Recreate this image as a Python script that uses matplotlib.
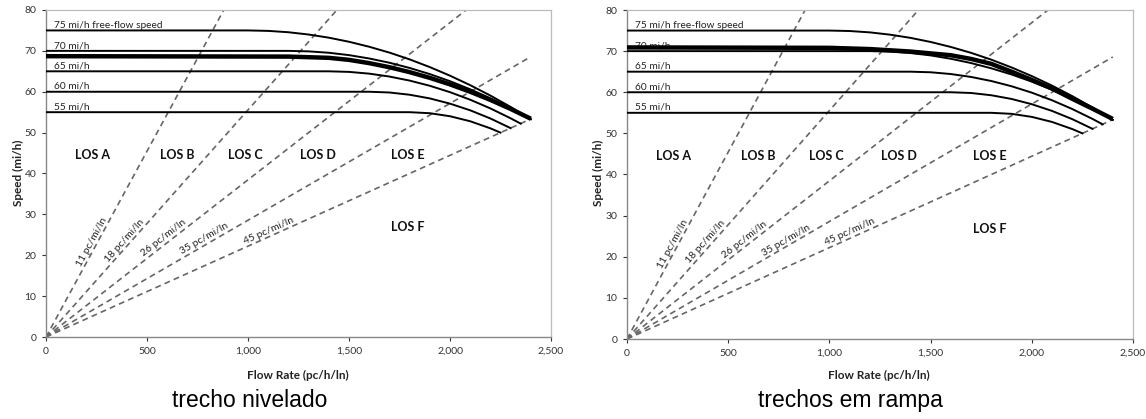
import numpy as np
import matplotlib
matplotlib.use("Agg")
import matplotlib.pyplot as plt

plt.rcParams['font.family'] = ['Lato', 'DejaVu Sans']

# HCM speed-flow curves (flow pc/h/ln, speed mi/h)
ffs_labels = ["75 mi/h free-flow speed", "70 mi/h", "65 mi/h", "60 mi/h", "55 mi/h"]
ffs_values = [75, 70, 65, 60, 55]

flow_75 = [0, 1000, 1100, 1200, 1300, 1400, 1500, 1600, 1700, 1800, 1900, 2000, 2100, 2200, 2300, 2400]
speed_75 = [75, 75, 74.89, 74.56, 74.00, 73.23, 72.23, 71.01, 69.58, 67.92, 66.03, 63.93, 61.61, 59.06, 56.29, 53.30]

flow_70 = [0, 1200, 1300, 1400, 1500, 1600, 1700, 1800, 1900, 2000, 2100, 2200, 2300, 2400]
speed_70 = [70, 70, 69.88, 69.54, 68.96, 68.14, 67.10, 65.82, 64.32, 62.58, 60.60, 58.40, 55.96, 53.30]

flow_65 = [0, 1400, 1500, 1600, 1700, 1800, 1900, 2000, 2100, 2200, 2300, 2350]
speed_65 = [65, 65, 64.86, 64.43, 63.72, 62.73, 61.46, 59.90, 58.05, 55.92, 53.51, 52.20]

flow_60 = [0, 1600, 1700, 1800, 1900, 2000, 2100, 2200, 2300]
speed_60 = [60, 60, 59.82, 59.27, 58.37, 57.09, 55.46, 53.46, 51.10]

flow_55 = [0, 1800, 1900, 2000, 2100, 2200, 2250]
speed_55 = [55, 55, 54.75, 54.01, 52.78, 51.05, 50.00]

# thick observed curves
flow_level = [0, 1200, 1400, 1500, 1600, 1700, 1800, 1900, 2000, 2100, 2200, 2300, 2400]
speed_level = [68.7, 68.6, 68.3, 67.8, 67.0, 66.0, 64.8, 63.4, 61.8, 60.0, 58.0, 55.8, 53.4]

flow_grade = [0, 1000, 1200, 1400, 1600, 1700, 1800, 1900, 2000, 2100, 2200, 2300, 2400]
speed_grade = [70.9, 70.8, 70.5, 69.9, 69.0, 68.1, 66.9, 65.0, 63.0, 60.9, 58.4, 56.0, 53.5]

# density boundaries (pc/mi/ln)
densities = [11, 18, 26, 35, 45]
density_labels = ["11 pc/mi/ln", "18 pc/mi/ln", "26 pc/mi/ln", "35 pc/mi/ln", "45 pc/mi/ln"]
density_label_flow = [245, 405, 595, 795, 1110]

los_labels = ["LOS A", "LOS B", "LOS C", "LOS D", "LOS E", "LOS F"]
los_flow = [230, 650, 985, 1345, 1792, 1790]
los_speed = [44.5, 44.5, 44.5, 44.5, 44.5, 26.8]

x_ticks = [0, 500, 1000, 1500, 2000, 2500]
x_ticklabels = ["0", "500", "1,000", "1,500", "2,000", "2,500"]
y_ticks = [0, 10, 20, 30, 40, 50, 60, 70, 80]

captions = ["trecho nivelado", "trechos em rampa"]


def draw_panel(ax, thick_flow, thick_speed):
    curves = [(flow_75, speed_75), (flow_70, speed_70), (flow_65, speed_65),
              (flow_60, speed_60), (flow_55, speed_55)]
    for (f, s) in curves:
        ax.plot(f, s, color="black", lw=1.4, zorder=3)
    for lab, v in zip(ffs_labels, ffs_values):
        ax.text(40, v + 0.2, lab, fontsize=7.3, color="#222222", ha="left", va="bottom", zorder=2)
    ax.plot(thick_flow, thick_speed, color="black", lw=3.2, zorder=4, solid_capstyle="butt")

    for d, lab, lf in zip(densities, density_labels, density_label_flow):
        v_end = min(80 * d, 2400)
        ax.plot([0, v_end], [0, v_end / d], color="#666666", lw=1.2,
                ls=(0, (3.5, 2.5)), zorder=2)
        ang = np.degrees(np.arctan(1.0 / d))
        ax.text(lf, lf / d + 0.4, lab, fontsize=7.5, color="#222222", ha="center", va="bottom",
                rotation=ang, rotation_mode="anchor", transform_rotates_text=True)

    for lab, f, s in zip(los_labels, los_flow, los_speed):
        ax.text(f, s, lab, fontsize=9, fontweight="bold", color="#111111", ha="center", va="center")

    ax.set_xlim(0, 2500)
    ax.set_ylim(0, 80)
    ax.set_xticks(x_ticks)
    ax.set_xticklabels(x_ticklabels)
    ax.set_yticks(y_ticks)
    ax.tick_params(labelsize=7.5, colors="#333333", length=3, width=0.8, pad=4)
    for side in ["top", "right"]:
        ax.spines[side].set_color("#bbbbbb")
        ax.spines[side].set_linewidth(0.9)
    for side in ["left", "bottom"]:
        ax.spines[side].set_color("#888888")
        ax.spines[side].set_linewidth(1.0)


fig = plt.figure(figsize=(11.46, 4.19), dpi=100)
ax_left = fig.add_axes([46 / 1146, 82 / 419, 505 / 1146, 327 / 419])
ax_right = fig.add_axes([627 / 1146, 80 / 419, 506 / 1146, 329 / 419])

draw_panel(ax_left, flow_level, speed_level)
draw_panel(ax_right, flow_grade, speed_grade)

for xl, xc in [(18, 298), (598, 879)]:
    fig.text(xl / 1146, 1 - 173 / 419, "Speed (mi/h)", rotation=90, fontsize=8.5,
             fontweight="bold", color="#222222", ha="center", va="center")
    fig.text(xc / 1146, 1 - 375 / 419, "Flow Rate (pc/h/ln)", fontsize=8.5,
             fontweight="bold", color="#222222", ha="center", va="center")

for cap, cx in zip(captions, [250, 850]):
    fig.text(cx / 1146, 1 - 400 / 419, cap, fontsize=16.5, family="Liberation Sans",
             color="black", ha="center", va="center")

fig.savefig("out.png", dpi=100)
